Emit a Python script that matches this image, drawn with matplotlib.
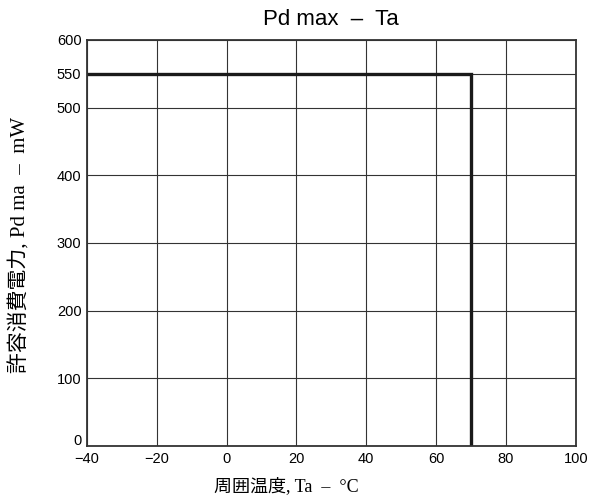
import matplotlib.pyplot as plt
from matplotlib.transforms import ScaledTranslation

# derating curve: flat at max power, then cut off
ta = [-40, 70, 70]
pd_max = [550, 550, 0]

x_ticks = [-40, -20, 0, 20, 40, 60, 80, 100]
y_ticks = [0, 100, 200, 300, 400, 500, 550, 600]

label_font = ['Liberation Serif', 'Noto Sans CJK JP']

fig = plt.figure(figsize=(6.08, 5.0), dpi=100)
ax = fig.add_axes([0.143, 0.108, 0.804, 0.812])

ax.plot(ta, pd_max, color='#1a1a1a', linewidth=2.4, solid_joinstyle='miter')

ax.set_xlim(-40, 100)
ax.set_ylim(0, 600)
ax.set_xticks(x_ticks)
ax.set_yticks(y_ticks)
ax.set_xticklabels(['\u221240', '\u221220', '0', '20', '40', '60', '80', '100'])
ax.tick_params(length=0, labelsize=10.5, pad=4)
for lbl in ax.get_xticklabels() + ax.get_yticklabels():
    lbl.set_family('Liberation Sans')
# lift the zero label so it clears the -40 below it
zero = ax.get_yticklabels()[0]
zero.set_transform(zero.get_transform() + ScaledTranslation(0, 5 / 72, fig.dpi_scale_trans))

ax.grid(True, color='#333333', linewidth=0.8)
ax.set_axisbelow(True)
for s in ax.spines.values():
    s.set_linewidth(1.3)
    s.set_color('#333333')

ax.set_title('Pd max  \u2013  Ta', fontsize=16, family='Liberation Sans', pad=11)
ax.set_xlabel('周囲温度, Ta  \u2013  °C', fontsize=13, family=label_font)
ax.set_ylabel('許容消費電力, Pd ma  \u2013  mW', fontsize=15, family=label_font)
ax.xaxis.set_label_coords(0.407, -0.098)
ax.xaxis.label.set_va('center')
ax.yaxis.set_label_coords(-0.137, 0.495)
ax.yaxis.label.set_va('center')

fig.savefig('out.png', dpi=100)
